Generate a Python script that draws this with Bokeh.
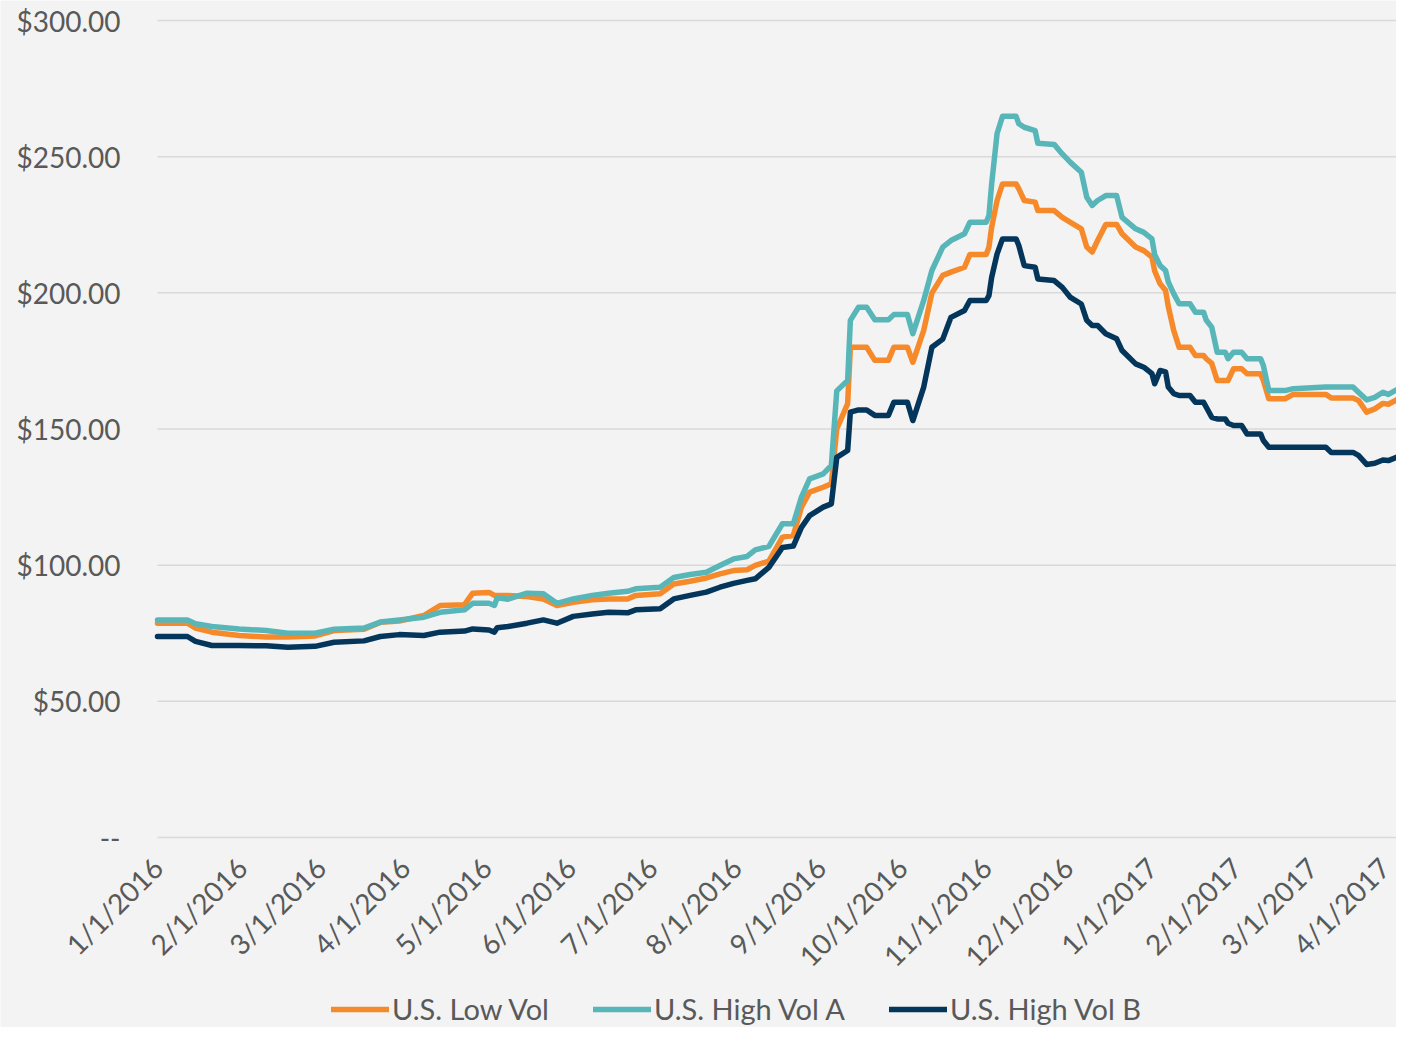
import pandas as pd
from math import pi
from bokeh.plotting import figure
from bokeh.models import (ColumnDataSource, FixedTicker, Legend, LegendItem, Range1d,
                          DatetimeAxis, LinearAxis)
from bokeh.embed import file_html
from bokeh.resources import INLINE

dates = [
    "2016-01-01", "2016-01-12", "2016-01-15", "2016-01-21", "2016-01-31", "2016-02-10",
    "2016-02-18", "2016-02-28", "2016-03-06", "2016-03-17", "2016-03-23", "2016-03-30",
    "2016-04-08", "2016-04-14", "2016-04-23", "2016-04-26", "2016-05-02", "2016-05-04",
    "2016-05-05", "2016-05-09", "2016-05-16", "2016-05-22", "2016-05-27", "2016-06-02",
    "2016-06-09", "2016-06-15", "2016-06-22", "2016-06-25", "2016-07-04", "2016-07-09",
    "2016-07-15", "2016-07-21", "2016-07-26", "2016-07-31", "2016-08-05", "2016-08-08",
    "2016-08-13", "2016-08-18", "2016-08-22", "2016-08-25", "2016-08-28", "2016-09-02",
    "2016-09-05", "2016-09-07", "2016-09-11", "2016-09-12", "2016-09-15", "2016-09-18",
    "2016-09-21", "2016-09-26", "2016-09-28", "2016-10-03", "2016-10-05", "2016-10-09",
    "2016-10-12", "2016-10-16", "2016-10-19", "2016-10-24", "2016-10-26", "2016-11-01",
    "2016-11-02", "2016-11-03", "2016-11-05", "2016-11-07", "2016-11-12", "2016-11-13",
    "2016-11-15", "2016-11-19", "2016-11-20", "2016-11-26", "2016-11-29", "2016-12-02",
    "2016-12-06", "2016-12-08", "2016-12-10", "2016-12-12", "2016-12-15", "2016-12-19",
    "2016-12-21", "2016-12-26", "2016-12-29", "2017-01-01", "2017-01-02", "2017-01-04",
    "2017-01-06", "2017-01-07", "2017-01-09", "2017-01-11", "2017-01-15", "2017-01-17",
    "2017-01-20", "2017-01-21", "2017-01-23", "2017-01-25", "2017-01-28", "2017-01-29",
    "2017-01-31", "2017-02-03", "2017-02-05", "2017-02-10", "2017-02-11", "2017-02-13",
    "2017-02-19", "2017-02-22", "2017-03-06", "2017-03-08", "2017-03-16", "2017-03-18",
    "2017-03-21", "2017-03-24", "2017-03-27", "2017-03-29", "2017-04-01",
]

us_low_vol = [
    78.7, 78.7, 76.9, 75.4, 74.2, 73.6,
    73.6, 74.0, 76.0, 76.5, 79.0, 79.5,
    81.5, 85.2, 85.5, 89.7, 90.0, 88.9,
    88.9, 88.9, 88.5, 87.6, 85.2, 86.4,
    87.3, 87.6, 87.6, 88.9, 89.5, 93.1,
    94.1, 95.3, 96.8, 98.0, 98.3, 99.9,
    101.5, 110.3, 110.9, 121.3, 126.8, 128.6,
    129.9, 150.0, 159.3, 180.0, 180.0, 180.0,
    175.2, 175.2, 180.0, 180.0, 174.5, 186.2,
    199.9, 206.4, 207.6, 209.4, 214.1, 214.1,
    216.8, 224.1, 233.9, 240.0, 240.0, 238.2,
    233.9, 233.3, 230.2, 230.2, 227.7, 225.9,
    223.5, 216.8, 215.0, 219.2, 225.1, 225.1,
    221.7, 216.8, 215.5, 213.1, 208.0, 203.3,
    200.9, 195.0, 186.2, 180.0, 180.0, 177.0,
    177.0, 175.8, 174.1, 167.8, 167.8, 167.8,
    172.1, 172.1, 170.3, 170.3, 167.8, 161.1,
    161.1, 162.7, 162.7, 161.4, 161.4, 160.5,
    156.2, 157.4, 159.4, 159.1, 160.7,
]

us_high_vol_a = [
    79.9, 79.9, 78.5, 77.5, 76.6, 76.0,
    75.0, 75.0, 76.5, 76.9, 79.1, 79.9,
    80.9, 82.7, 83.6, 86.0, 86.0, 85.2,
    88.0, 87.5, 89.7, 89.5, 86.0, 87.6,
    88.9, 89.7, 90.4, 91.3, 91.9, 95.5,
    96.6, 97.4, 99.9, 102.3, 103.2, 105.6,
    106.9, 115.2, 115.2, 125.0, 131.7, 133.5,
    136.6, 164.0, 167.8, 189.9, 194.7, 194.7,
    190.1, 190.1, 192.0, 192.0, 185.0, 197.2,
    208.2, 216.8, 219.2, 221.7, 225.9, 225.9,
    228.4, 240.0, 258.5, 264.8, 264.8, 262.1,
    260.8, 259.6, 254.9, 254.5, 251.0, 247.9,
    244.3, 235.1, 232.1, 233.9, 235.7, 235.7,
    227.7, 223.5, 222.2, 219.8, 214.0, 210.0,
    208.2, 204.0, 199.7, 196.0, 196.0, 192.9,
    192.9, 189.9, 187.4, 178.2, 178.2, 175.8,
    178.2, 178.2, 175.8, 175.8, 173.3, 164.1,
    164.1, 164.8, 165.4, 165.4, 165.4, 163.5,
    160.7, 161.6, 163.5, 162.7, 164.4,
]

us_high_vol_b = [
    73.8, 73.8, 72.0, 70.5, 70.5, 70.4,
    69.9, 70.2, 71.7, 72.2, 73.8, 74.5,
    74.2, 75.4, 75.8, 76.6, 76.2, 75.4,
    77.0, 77.5, 78.7, 79.9, 78.7, 81.2,
    82.1, 82.7, 82.5, 83.6, 84.0, 87.6,
    88.9, 90.1, 91.9, 93.3, 94.4, 95.0,
    99.2, 106.5, 107.0, 113.9, 118.2, 121.3,
    122.5, 139.6, 142.1, 156.2, 157.0, 157.0,
    155.0, 155.0, 159.8, 159.8, 153.1, 165.4,
    180.0, 183.0, 191.0, 193.5, 197.2, 197.2,
    199.0, 205.7, 214.3, 219.8, 219.8, 217.4,
    210.0, 209.4, 205.1, 204.5, 202.0, 198.3,
    195.9, 189.9, 188.0, 188.0, 185.0, 183.1,
    178.8, 173.9, 172.7, 170.3, 166.6, 171.5,
    171.0, 165.4, 163.0, 162.3, 162.3, 159.8,
    159.8, 158.0, 154.3, 153.7, 153.7, 152.1,
    151.3, 151.3, 148.2, 148.2, 145.8, 143.3,
    143.3, 143.3, 143.3, 141.4, 141.4, 140.3,
    137.0, 137.4, 138.6, 138.4, 139.6,
]

series_names = ["U.S. Low Vol", "U.S. High Vol A", "U.S. High Vol B"]
series_colors = ["#F68A2A", "#58B6B9", "#04365C"]

x_tick_dates = [
    "2016-01-01", "2016-02-01", "2016-03-01", "2016-04-01", "2016-05-01",
    "2016-06-01", "2016-07-01", "2016-08-01", "2016-09-01", "2016-10-01",
    "2016-11-01", "2016-12-01", "2017-01-01", "2017-02-01", "2017-03-01",
    "2017-04-01",
]
x_tick_labels = [
    "1/1/2016", "2/1/2016", "3/1/2016", "4/1/2016", "5/1/2016", "6/1/2016",
    "7/1/2016", "8/1/2016", "9/1/2016", "10/1/2016", "11/1/2016", "12/1/2016",
    "1/1/2017", "2/1/2017", "3/1/2017", "4/1/2017",
]
y_ticks = [0, 50, 100, 150, 200, 250, 300]
y_tick_labels = ["--", "$50.00", "$100.00", "$150.00", "$200.00", "$250.00", "$300.00"]

FONT = "Lato"
TEXT_COLOR = "#595959"
BG = "#F2F3F2"
W, H = 1396, 1027
# plot-area placement (pixels) inside the canvas
LEFT, TOP, ZERO_Y = 157, 20, 837

tick_ms = [pd.Timestamp(d).value // 10**6 for d in x_tick_dates]
ms_per_px = (tick_ms[-1] - tick_ms[0]) / (W - LEFT)
units_per_px = 300 / (ZERO_Y - TOP)

src = ColumnDataSource(dict(
    date=pd.to_datetime(dates),
    low=us_low_vol,
    a=us_high_vol_a,
    b=us_high_vol_b,
))
grid_src = ColumnDataSource(dict(
    x0=[pd.Timestamp(x_tick_dates[0])] * len(y_ticks),
    x1=[pd.Timestamp(x_tick_dates[-1])] * len(y_ticks),
    y=y_ticks,
))

# the frame covers the whole canvas; axes are pinned at the data origin
p = figure(
    width=W, height=H,
    x_axis_location=None, y_axis_location=None,
    x_range=Range1d(tick_ms[0] - LEFT * ms_per_px, tick_ms[-1]),
    y_range=Range1d(-(H - ZERO_Y) * units_per_px, 300 + TOP * units_per_px),
    output_backend="svg",
    toolbar_location=None,
    background_fill_color=BG,
    border_fill_color=BG,
    min_border=0,
)
p.outline_line_color = None
p.grid.visible = False

# horizontal gridlines across the plotting period
p.segment(x0="x0", x1="x1", y0="y", y1="y", source=grid_src,
          line_color="#D9D9D9", line_width=1.5)

renderers = []
for col, color in zip(["low", "a", "b"], series_colors):
    r = p.line("date", col, source=src, line_color=color, line_width=5.5,
               line_join="round", line_cap="round")
    renderers.append(r)

xaxis = DatetimeAxis(fixed_location=0)
p.add_layout(xaxis, "below")
xaxis.ticker = FixedTicker(ticks=tick_ms)
xaxis.major_label_overrides = {t: lab for t, lab in zip(tick_ms, x_tick_labels)}
xaxis.major_label_orientation = pi / 4
xaxis.major_label_standoff = 25

yaxis = LinearAxis(fixed_location=tick_ms[0])
p.add_layout(yaxis, "left")
yaxis.ticker = FixedTicker(ticks=y_ticks)
yaxis.major_label_overrides = {t: lab for t, lab in zip(y_ticks, y_tick_labels)}
yaxis.major_label_standoff = 37

for ax in (xaxis, yaxis):
    ax.axis_line_color = None
    ax.major_tick_line_color = None
    ax.minor_tick_line_color = None
    ax.major_tick_in = 0
    ax.major_tick_out = 0
    ax.major_label_text_font = FONT
    ax.major_label_text_font_size = "28px"
    ax.major_label_text_color = TEXT_COLOR

legend = Legend(
    items=[LegendItem(label=n, renderers=[r]) for n, r in zip(series_names, renderers)],
    orientation="horizontal",
    location=(331, 1),
    glyph_width=58, glyph_height=20,
    label_standoff=3, spacing=44,
    padding=0, margin=0,
    label_text_font=FONT, label_text_font_size="29px", label_text_color=TEXT_COLOR,
    label_height=26,
    background_fill_alpha=0, border_line_color=None,
)
p.add_layout(legend)

open("out.html", "w").write(file_html(p, INLINE))
